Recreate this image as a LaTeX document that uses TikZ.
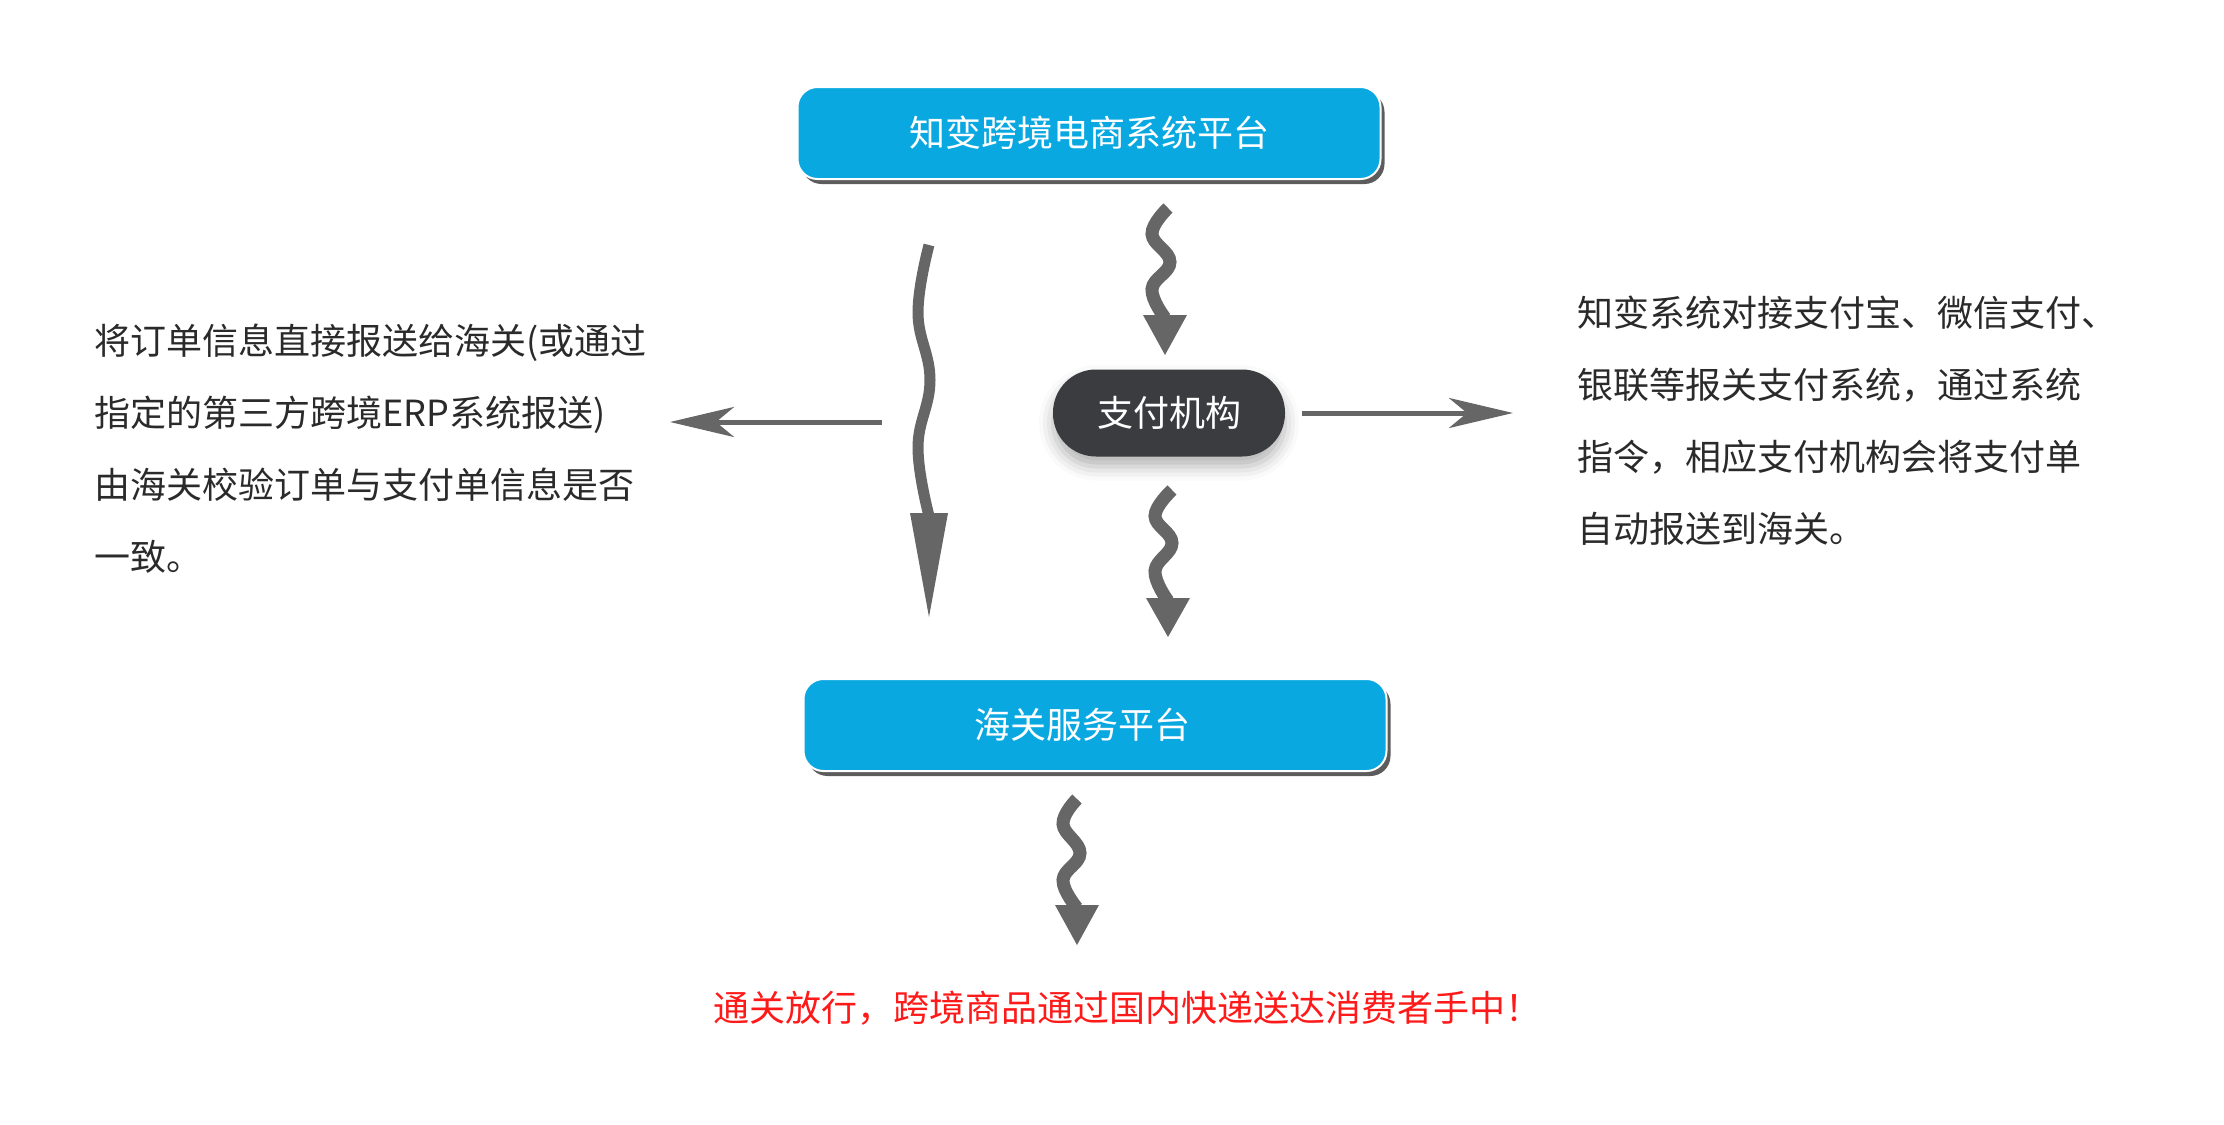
\documentclass[tikz,border=0pt]{standalone}
\usepackage{fontspec}
\setmainfont{Noto Sans CJK SC}
\usetikzlibrary{arrows.meta,shadows,shadows.blur}
\definecolor{boxblue}{HTML}{09A8E1}
\definecolor{paydark}{HTML}{3B3C40}
\definecolor{arrowgray}{HTML}{666666}
\definecolor{txtred}{HTML}{FF1A1A}
\definecolor{txtdark}{HTML}{2A2A2A}
\begin{document}
\begin{tikzpicture}[x=0.5pt,y=-0.5pt,
  bluebox/.style={rectangle, rounded corners=10pt, fill=boxblue, draw=white, line width=1pt,
    minimum width=291.5pt, minimum height=46pt, inner sep=0pt, text=white,
    font=\fontsize{18}{22}\selectfont,
    drop shadow={shadow xshift=2pt, shadow yshift=-2.5pt, fill=black!75, opacity=0.85}},
  paybox/.style={rectangle, rounded corners=21.5pt, fill=paydark, minimum width=116pt,
    minimum height=43.5pt, inner sep=0pt, text=white, font=\fontsize{18}{22}\selectfont,
    blur shadow={shadow xshift=0pt, shadow yshift=-5pt, shadow blur radius=7pt, shadow opacity=30}},
  wavy/.style={draw=arrowgray, line width=6.5pt, line cap=butt},
  bigwavy/.style={draw=arrowgray, line width=5.5pt, line cap=butt},
  headtri/.style={fill=arrowgray},
  flatarrow/.style={draw=arrowgray, line width=2.5pt,
    -{Stealth[length=32pt, width=15pt, inset=9pt]}},
  bodytext/.style={align=left, text=txtdark, font=\fontsize{18}{36}\selectfont, inner sep=0pt},
  redtext/.style={text=txtred, font=\fontsize{18}{22}\selectfont, inner sep=0pt}
]
\useasboundingbox (0,0) rectangle (2224,1125);

% main nodes
\node[bluebox] (top) at (1089,133) {知变跨境电商系统平台};
\node[bluebox] (customs) at (1095,725) {};
\node[text=white, font=\fontsize{18}{22}\selectfont, inner sep=0pt] (customslabel) at (1082,725) {海关服务平台};
\node[paybox] (pay) at (1169,413) {支付机构};

% texts
\node[bodytext, anchor=west] (lefttext) at (94,449)
  {将订单信息直接报送给海关(或通过\\指定的第三方跨境ERP系统报送)\\由海关校验订单与支付单信息是否\\一致。};
\node[bodytext, anchor=west] (righttext) at (1577,421)
  {知变系统对接支付宝、微信支付、\\银联等报关支付系统，通过系统\\指令，相应支付机构会将支付单\\自动报送到海关。};
\node[redtext] (release) at (1127,1008) {通关放行，跨境商品通过国内快递送达消费者手中！};

% connector end points
\coordinate (bigS) at (929,245);
\coordinate (bigE) at (929,617);
\coordinate (w1S) at (1168,208);
\coordinate (w1E) at (1165,355);
\coordinate (w2S) at (1172,490);
\coordinate (w2E) at (1168,637);
\coordinate (w3S) at (1077,799);
\coordinate (w3E) at (1077,945);
\coordinate (lS) at (882,422);
\coordinate (lE) at (670,422);
\coordinate (rS) at (1302,413);
\coordinate (rE) at (1513,413);

% big wavy arrow (top platform -> customs)
\draw[bigwavy] plot[smooth, tension=0.7] coordinates {(bigS) (918,313) (930,380) (918,447) (929,516)};
\fill[headtri] (910,513) -- (948,513) -- (bigE) -- cycle;

% small wavy: top -> pay
\draw[wavy] plot[smooth, tension=0.7] coordinates {(w1S) (1152,234) (1170,262) (1152,289) (1165,318)};
\fill[headtri] (1143,315) -- (1187,315) -- (w1E) -- cycle;

% small wavy: pay -> customs
\draw[wavy] plot[smooth, tension=0.7] coordinates {(w2S) (1155,516) (1172,543) (1155,571) (1168,601)};
\fill[headtri] (1146,598) -- (1190,598) -- (w2E) -- cycle;

% small wavy: customs -> release
\draw[wavy] plot[smooth, tension=0.7] coordinates {(w3S) (1063,824) (1080,853) (1063,880) (1077,908)};
\fill[headtri] (1055,905) -- (1099,905) -- (w3E) -- cycle;

% straight arrows
\draw[flatarrow] (lS) -- (lE);
\draw[flatarrow] (rS) -- (rE);
\end{tikzpicture}
\end{document}
